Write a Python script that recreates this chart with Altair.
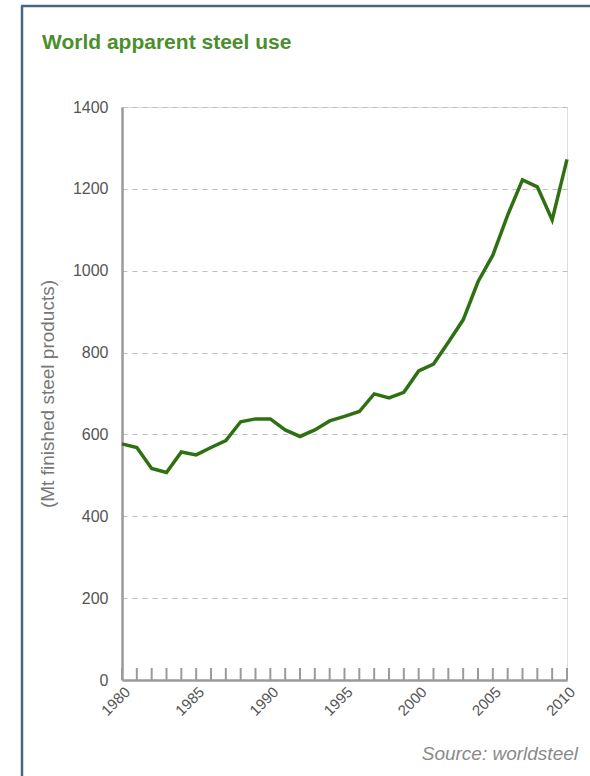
import altair as alt
import pandas as pd

years = list(range(1980, 2011))
steel_use = [577, 568, 517, 507, 557, 550, 568, 585, 631, 638,
             638, 611, 595, 611, 633, 644, 656, 699, 689, 703,
             755, 772, 825, 880, 973, 1038, 1136, 1222, 1205, 1124,
             1272]
y_ticks = [0, 200, 400, 600, 800, 1000, 1200, 1400]
x_labels = [1980, 1985, 1990, 1995, 2000, 2005, 2010]
title_text = "World apparent steel use"
y_title = "(Mt finished steel products)"
source_text = "Source: worldsteel"

df = pd.DataFrame({"year": years, "use": steel_use})

W, H = 445, 573
FONT = "Liberation Sans"

x_enc = alt.X(
    "year:Q",
    scale=alt.Scale(domain=[1980, 2010], nice=False, zero=False),
    axis=alt.Axis(
        values=x_labels, format="d", title=None, grid=False, ticks=False,
        domainColor="#9a9a9a", domainWidth=2.5,
        labelAngle=315, labelAlign="right", labelBaseline="middle",
        labelPadding=9, labelOffset=5, labelFont=FONT, labelFontSize=15,
        labelColor="#555555",
    ),
)
y_enc = alt.Y(
    "use:Q",
    scale=alt.Scale(domain=[0, 1400], nice=False),
    axis=alt.Axis(
        values=y_ticks, format="d", title=y_title, ticks=False, tickSize=0,
        grid=True, gridColor="#bdbdbd", gridDash=[5, 5], gridWidth=1,
        domainColor="#9a9a9a", domainWidth=2.5,
        labelPadding=14, labelFont=FONT, labelFontSize=16, labelColor="#555555",
        titleFont=FONT, titleFontSize=19, titleFontWeight="normal",
        titleColor="#777777", titleAngle=270, titleX=-75, titleY=H / 2,
        titleAlign="center", titleBaseline="middle",
    ),
)

line = alt.Chart(df).mark_line(color="#2f7112", strokeWidth=3.5).encode(x=x_enc, y=y_enc)

ticks = alt.Chart(df).mark_rule(color="#9a9a9a", strokeWidth=2).encode(
    x="year:Q", y=alt.value(H), y2=alt.value(H - 12)
)

one = alt.Data(values=[{"t": 1}])
frame_left = alt.Chart(one).mark_rule(color="#4a6585", strokeWidth=2.5).encode(
    x=alt.value(-100), y=alt.value(-101), y2=alt.value(H + 110)
)
frame_top = alt.Chart(one).mark_rule(color="#4a6585", strokeWidth=2.5).encode(
    x=alt.value(-101), x2=alt.value(W + 30), y=alt.value(-101)
)

title = alt.Chart(alt.Data(values=[{"t": title_text}])).mark_text(
    align="left", baseline="alphabetic", font=FONT,
    fontSize=21, fontWeight="bold", color="#4a8f2c",
).encode(x=alt.value(-80), y=alt.value(-58), text="t:N")

source = alt.Chart(alt.Data(values=[{"t": source_text}])).mark_text(
    align="right", baseline="alphabetic", font=FONT, fontStyle="italic",
    fontSize=19, color="#8a8a8a",
).encode(x=alt.value(456), y=alt.value(653), text="t:N")

chart = alt.layer(frame_left, frame_top, line, ticks, title, source).properties(
    width=W, height=H,
    autosize=alt.AutoSizeParams(type="none"),
    padding={"left": 122, "top": 107, "right": 23, "bottom": 96},
).configure_view(stroke=None).configure(background="white")

chart.save("out.html", embed_options={"renderer": "svg", "actions": False})
